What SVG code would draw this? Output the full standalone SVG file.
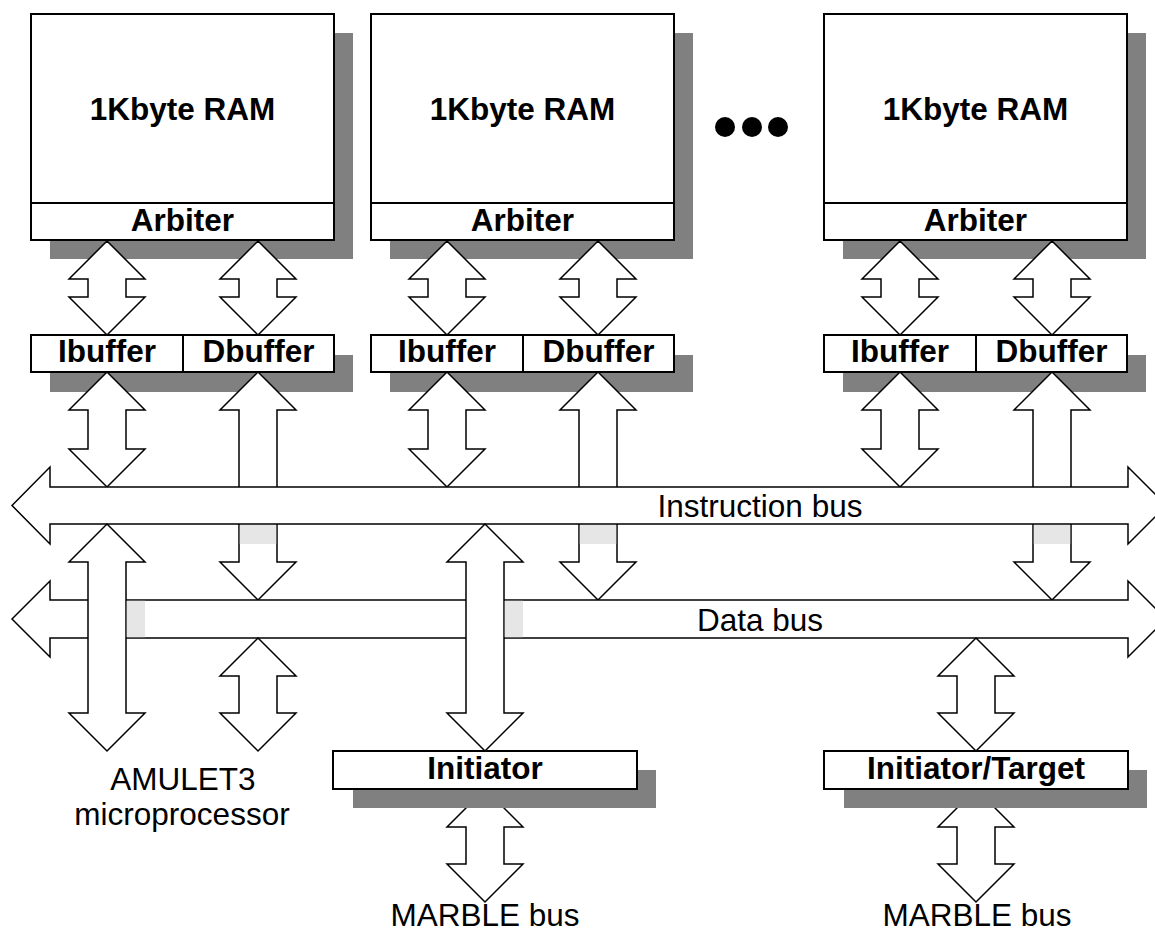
<svg xmlns="http://www.w3.org/2000/svg" width="1155" height="933" viewBox="0 0 1155 933">
<defs>
<style>
.shadow{fill:#808080;stroke:none}
.box{fill:#fff;stroke:#000;stroke-width:2}
.div{stroke:#000;stroke-width:2;fill:none}
.arr{fill:#fff;stroke:#000;stroke-width:1.5;stroke-linejoin:miter}
.cross{fill:#e6e6e6;stroke:none}
.b{font-family:"Liberation Sans",Arial,sans-serif;font-weight:bold;font-size:31.5px;text-anchor:middle;fill:#000}
.r{font-family:"Liberation Sans",Arial,sans-serif;font-size:31.5px;text-anchor:middle;fill:#000}
</style>
</defs>
<rect width="1155" height="933" fill="#fff"/>

<g id="ram1">
<rect class="shadow" x="50" y="33" width="303" height="226"/>
<rect class="box" x="31" y="14" width="303" height="226"/>
<line class="div" x1="31" y1="203" x2="334" y2="203"/>
<text class="b" x="182.5" y="120">1Kbyte RAM</text>
<text class="b" x="182.5" y="231">Arbiter</text>
</g>
<g id="ram2">
<rect class="shadow" x="390" y="33" width="303" height="226"/>
<rect class="box" x="371" y="14" width="303" height="226"/>
<line class="div" x1="371" y1="203" x2="674" y2="203"/>
<text class="b" x="522.5" y="120">1Kbyte RAM</text>
<text class="b" x="522.5" y="231">Arbiter</text>
</g>
<g id="ram3">
<rect class="shadow" x="843" y="33" width="303" height="226"/>
<rect class="box" x="824" y="14" width="303" height="226"/>
<line class="div" x1="824" y1="203" x2="1127" y2="203"/>
<text class="b" x="975.5" y="120">1Kbyte RAM</text>
<text class="b" x="975.5" y="231">Arbiter</text>
</g>
<g id="ellipsis">
<circle cx="725" cy="127" r="10" fill="#000"/>
<circle cx="752" cy="127" r="10" fill="#000"/>
<circle cx="778" cy="127" r="10" fill="#000"/>
</g>
<g id="buf1">
<rect class="shadow" x="50" y="355" width="303" height="37"/>
<rect class="box" x="31" y="335" width="303" height="37"/>
<line class="div" x1="183" y1="335" x2="183" y2="372"/>
<text class="b" x="107" y="362">Ibuffer</text>
<text class="b" x="258.5" y="362">Dbuffer</text>
</g>
<g id="buf2">
<rect class="shadow" x="390" y="355" width="303" height="37"/>
<rect class="box" x="371" y="335" width="303" height="37"/>
<line class="div" x1="523" y1="335" x2="523" y2="372"/>
<text class="b" x="447" y="362">Ibuffer</text>
<text class="b" x="598.5" y="362">Dbuffer</text>
</g>
<g id="buf3">
<rect class="shadow" x="843" y="355" width="303" height="37"/>
<rect class="box" x="824" y="335" width="303" height="37"/>
<line class="div" x1="976" y1="335" x2="976" y2="372"/>
<text class="b" x="900" y="362">Ibuffer</text>
<text class="b" x="1051.5" y="362">Dbuffer</text>
</g>

<g id="connectors">
<path class="arr" d="M107,241 L145,279 L126,279 L126,297 L145,297 L107,335 L69,297 L88,297 L88,279 L69,279 Z"/>
<path class="arr" d="M258,241 L296,279 L277,279 L277,297 L296,297 L258,335 L220,297 L239,297 L239,279 L220,279 Z"/>
<path class="arr" d="M447,241 L485,279 L466,279 L466,297 L485,297 L447,335 L409,297 L428,297 L428,279 L409,279 Z"/>
<path class="arr" d="M598,241 L636,279 L617,279 L617,297 L636,297 L598,335 L560,297 L579,297 L579,279 L560,279 Z"/>
<path class="arr" d="M900,241 L938,279 L919,279 L919,297 L938,297 L900,335 L862,297 L881,297 L881,279 L862,279 Z"/>
<path class="arr" d="M1052,241 L1090,279 L1071,279 L1071,297 L1090,297 L1052,335 L1014,297 L1033,297 L1033,279 L1014,279 Z"/>
<path class="arr" d="M107,372 L145,410 L126,410 L126,449 L145,449 L107,487 L69,449 L88,449 L88,410 L69,410 Z"/>
<path class="arr" d="M447,372 L485,410 L466,410 L466,449 L485,449 L447,487 L409,449 L428,449 L428,410 L409,410 Z"/>
<path class="arr" d="M900,372 L938,410 L919,410 L919,449 L938,449 L900,487 L862,449 L881,449 L881,410 L862,410 Z"/>
<path class="arr" d="M258,372 L296,410 L277,410 L277,562 L296,562 L258,600 L220,562 L239,562 L239,410 L220,410 Z"/>
<path class="arr" d="M598,372 L636,410 L617,410 L617,562 L636,562 L598,600 L560,562 L579,562 L579,410 L560,410 Z"/>
<path class="arr" d="M1052,372 L1090,410 L1071,410 L1071,562 L1090,562 L1052,600 L1014,562 L1033,562 L1033,410 L1014,410 Z"/>
<rect class="cross" x="239.8" y="524.8" width="36.4" height="19.2"/>
<rect class="cross" x="579.8" y="524.8" width="36.4" height="19.2"/>
<rect class="cross" x="1033.8" y="524.8" width="36.4" height="19.2"/>
<path id="ibus" class="arr" d="M12,505.5 L50,467 L50,487 L1128,487 L1128,467 L1166.5,505.5 L1128,544 L1128,524 L50,524 L50,544 Z"/>
<text class="r" x="760" y="517">Instruction bus</text>
<path id="dbus" class="arr" d="M12,619 L50,581 L50,600 L1128,600 L1128,581 L1166,619 L1128,657 L1128,638 L50,638 L50,657 Z"/>
<text class="r" x="760" y="631">Data bus</text>
<path class="arr" d="M107,524 L145,562 L126,562 L126,713 L145,713 L107,751 L69,713 L88,713 L88,562 L69,562 Z"/>
<path class="arr" d="M485,524 L523,562 L504,562 L504,713 L523,713 L485,751 L447,713 L466,713 L466,562 L447,562 Z"/>
<rect class="cross" x="126.8" y="600.8" width="18.2" height="36.4"/>
<rect class="cross" x="504.8" y="600.8" width="18.2" height="36.4"/>
<path class="arr" d="M258,638 L296,676 L277,676 L277,713 L296,713 L258,751 L220,713 L239,713 L239,676 L220,676 Z"/>
<path class="arr" d="M976,638 L1014,676 L995,676 L995,713 L1014,713 L976,751 L938,713 L957,713 L957,676 L938,676 Z"/>
<path class="arr" d="M485,789 L523,827 L504,827 L504,864 L523,864 L485,902 L447,864 L466,864 L466,827 L447,827 Z"/>
<path class="arr" d="M976,789 L1014,827 L995,827 L995,864 L1014,864 L976,902 L938,864 L957,864 L957,827 L938,827 Z"/>
</g>

<g id="processor">
<text class="r" x="183" y="790">AMULET3</text>
<text class="r" x="182" y="825">microprocessor</text>
</g>
<g id="initiator">
<rect class="shadow" x="353" y="770" width="303" height="38"/>
<rect class="box" x="333" y="751" width="304" height="38"/>
<text class="b" x="485" y="779">Initiator</text>
</g>
<g id="initiatortarget">
<rect class="shadow" x="844" y="770" width="303" height="38"/>
<rect class="box" x="824" y="751" width="304" height="38"/>
<text class="b" x="976" y="779">Initiator/Target</text>
</g>
<g id="marble1"><text class="r" x="485" y="926">MARBLE bus</text></g>
<g id="marble2"><text class="r" x="977" y="926">MARBLE bus</text></g>
</svg>
